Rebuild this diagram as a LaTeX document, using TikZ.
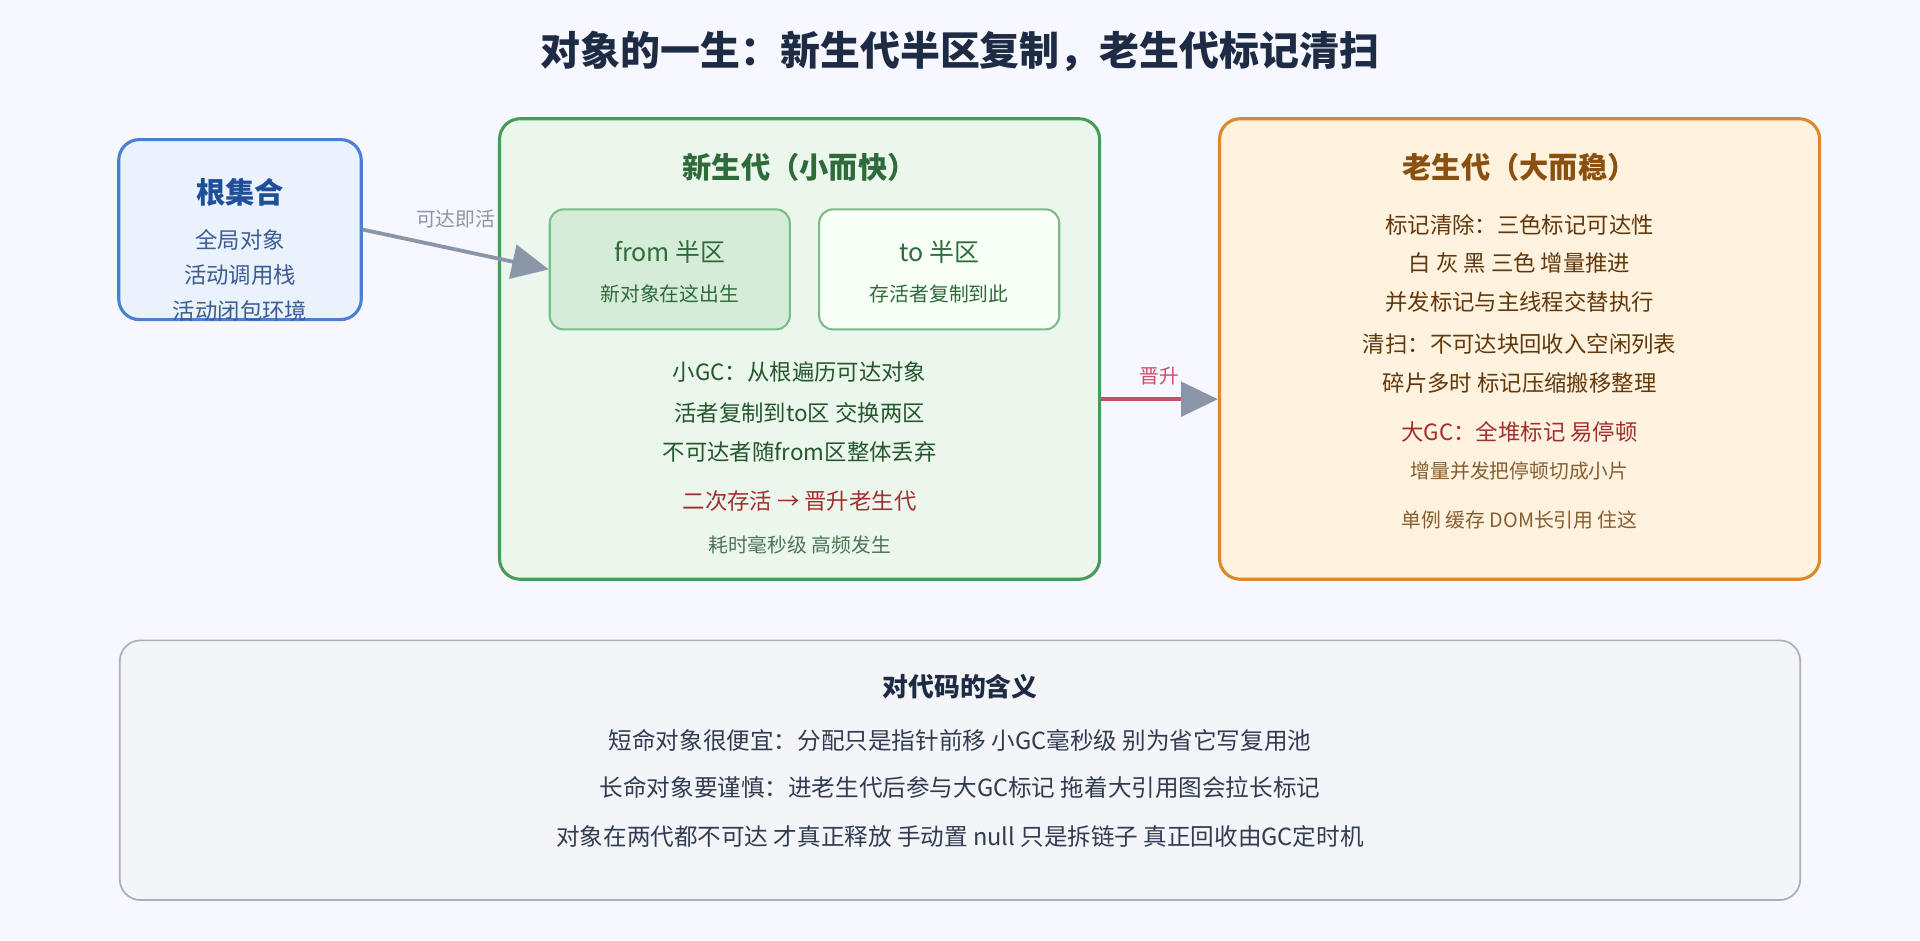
\documentclass[tikz,border=0pt]{standalone}
\usepackage{fontspec}
\setmainfont{Noto Sans CJK SC}
\usetikzlibrary{arrows.meta, positioning}
\definecolor{navy}{HTML}{1E2B45}
\definecolor{rootfill}{HTML}{EAF2FD}
\definecolor{rootline}{HTML}{4A7FD4}
\definecolor{roottext}{HTML}{1F4E9A}
\definecolor{youngfill}{HTML}{EBF6EC}
\definecolor{youngline}{HTML}{4A9A5A}
\definecolor{youngtext}{HTML}{2F6B3A}
\definecolor{semifill}{HTML}{D5ECD9}
\definecolor{semiline}{HTML}{7CBB8A}
\definecolor{oldfill}{HTML}{FFF2DE}
\definecolor{oldline}{HTML}{D98A2B}
\definecolor{oldtext}{HTML}{8A5010}
\definecolor{warn}{HTML}{A03030}
\definecolor{arrowgray}{HTML}{8A96A8}
\definecolor{promo}{HTML}{C8506A}
\definecolor{notefill}{HTML}{F4F5F8}
\definecolor{noteline}{HTML}{A8B0BC}
\tikzset{
  box/.style = {draw, rounded corners=12pt, line width=1.8pt},
  head/.style = {font=\fontsize{17}{20}\selectfont\bfseries},
  body/.style = {font=\fontsize{13}{15}\selectfont},
  small/.style = {font=\fontsize{11.5}{13}\selectfont},
  flow/.style = {line width=2.2pt, -{Triangle[length=0.75cm, width=0.7cm, color=arrowgray]}}
}
\begin{document}
\begin{tikzpicture}[x=0.025cm, y=-0.025cm]
  \fill[white!97!blue] (0,0) rectangle (1568,768);
  \useasboundingbox (0,0) rectangle (1568,768);
  \node (title) [navy, font=\fontsize{23.2}{27}\selectfont\bfseries] at (784,42) {对象的一生：新生代半区复制，老生代标记清扫};
  % 根集合
  \node (root) [box, draw=rootline, fill=rootfill, minimum width=4.95cm, minimum height=3.675cm] at (196,187.5) {};
  \node (rootT) [head, roottext] at (196,157) {根集合};
  \node (root1) [body, roottext!70!gray] at (196,196) {全局对象};
  \node (root2) [body, roottext!70!gray] at (196,225) {活动调用栈};
  \node (root3) [body, roottext!70!gray] at (196,254) {活动闭包环境};
  % 新生代
  \node (young) [box, draw=youngline, fill=youngfill, minimum width=12.25cm, minimum height=9.4cm] at (653,285) {};
  \node (youngT) [head, youngtext] at (653,137) {新生代（小而快）};
  \node (from) [box, line width=1.2pt, rounded corners=8pt, draw=semiline, fill=semifill, minimum width=4.9cm, minimum height=2.45cm] at (547,220) {};
  \node (fromT) [youngtext, font=\fontsize{14.5}{17}\selectfont] at (547,206) {from 半区};
  \node (fromS) [small, youngtext] at (547,240) {新对象在这出生};
  \node (to) [box, line width=1.2pt, rounded corners=8pt, draw=semiline, fill=green!3!white, minimum width=4.9cm, minimum height=2.45cm] at (767,220) {};
  \node (toT) [youngtext, font=\fontsize{14.5}{17}\selectfont] at (767,206) {to 半区};
  \node (toS) [small, youngtext] at (767,240) {存活者复制到此};
  \node (young1) [body, youngtext!80!black] at (653,304) {小GC：从根遍历可达对象};
  \node (young2) [body, youngtext!80!black] at (653,337) {活者复制到to区 交换两区};
  \node (young3) [body, youngtext!80!black] at (653,369) {不可达者随from区整体丢弃};
  \node (young4) [body, warn] at (653,409) {二次存活 → 晋升老生代};
  \node (young5) [small, youngtext!60!gray] at (653,445) {耗时毫秒级 高频发生};
  % 老生代
  \node (old) [box, draw=oldline, fill=oldfill, minimum width=12.25cm, minimum height=9.4cm] at (1241,285) {};
  \node (oldT) [head, oldtext] at (1241,137) {老生代（大而稳）};
  \node (old1) [body, oldtext!70!black] at (1241,184) {标记清除：三色标记可达性};
  \node (old2) [body, oldtext!70!black] at (1241,215) {白 灰 黑 三色 增量推进};
  \node (old3) [body, oldtext!70!black] at (1241,247) {并发标记与主线程交替执行};
  \node (old4) [body, oldtext!70!black] at (1241,281) {清扫：不可达块回收入空闲列表};
  \node (old5) [body, oldtext!70!black] at (1241,313) {碎片多时 标记压缩搬移整理};
  \node (old6) [body, warn] at (1241,353) {大GC：全堆标记 易停顿};
  \node (old7) [small, oldtext!70!gray] at (1241,385) {增量并发把停顿切成小片};
  \node (old8) [small, oldtext!70!gray] at (1241,425) {单例 缓存 DOM长引用 住这};
  % 连线
  \draw[flow, arrowgray] (root.east) -- (from.west) node[midway, above=8pt, small, arrowgray] {可达即活};
  \draw[flow, promo] ([yshift=-1.025cm]young.east) -- ([yshift=-1.025cm]old.west) node[midway, above=4pt, small, promo] {晋升};
  % 含义
  \node (note) [box, line width=1pt, draw=noteline, fill=notefill, minimum width=34.3cm, minimum height=5.3cm] at (784,629) {};
  \node (noteT) [navy, font=\fontsize{15}{18}\selectfont\bfseries] at (784,561) {对代码的含义};
  \node (note1) [navy!80!gray, font=\fontsize{13.7}{16}\selectfont] at (784,605) {短命对象很便宜：分配只是指针前移 小GC毫秒级 别为省它写复用池};
  \node (note2) [navy!80!gray, font=\fontsize{13.7}{16}\selectfont] at (784,643) {长命对象要谨慎：进老生代后参与大GC标记 拖着大引用图会拉长标记};
  \node (note3) [navy!80!gray, font=\fontsize{13.7}{16}\selectfont] at (784,683) {对象在两代都不可达 才真正释放 手动置 null 只是拆链子 真正回收由GC定时机};
\end{tikzpicture}
\end{document}
